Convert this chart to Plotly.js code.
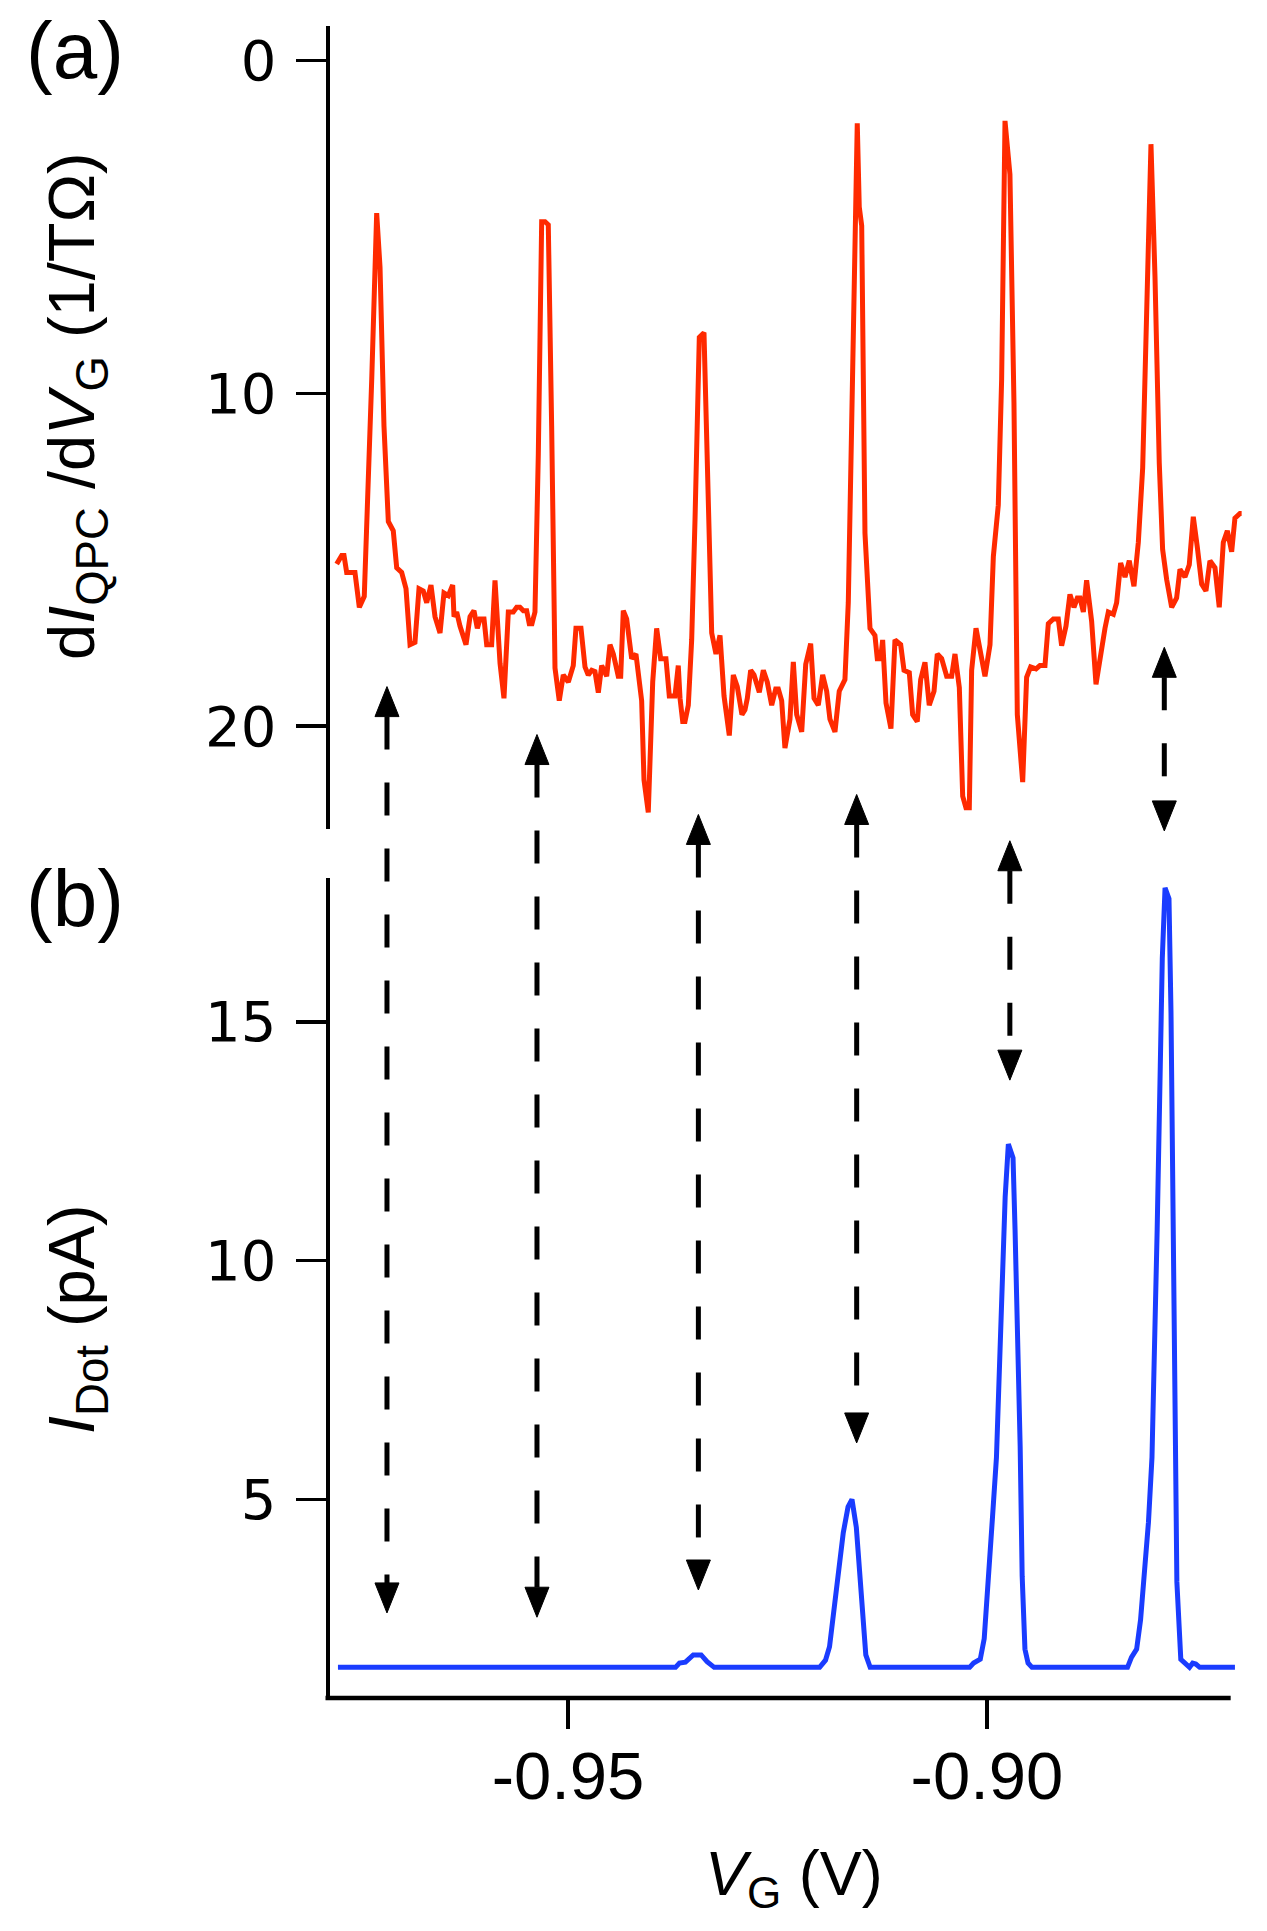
<!DOCTYPE html>
<html>
<head>
<meta charset="utf-8">
<script src="https://cdn.plot.ly/plotly-3.0.1.min.js"></script>
<style>html,body{margin:0;padding:0;background:#fff;}#chart{width:1267px;height:1931px;}</style>
</head>
<body>
<div id="chart"></div>
<script>
// ---- data: (a) dI_QPC/dV_G (1/TΩ) vs V_G (V)
const V_RED = [
-0.97760,-0.97700,-0.97673,-0.97641,-0.97542,-0.97490,-0.97431,-0.97390,-0.97342,-0.97283,
-0.97243,-0.97196,-0.97144,-0.97085,-0.97044,-0.96985,-0.96933,-0.96885,-0.96826,-0.96778,
-0.96727,-0.96686,-0.96635,-0.96587,-0.96527,-0.96480,-0.96428,-0.96376,-0.96360,-0.96328,
-0.96289,-0.96217,-0.96169,-0.96122,-0.96082,-0.96050,-0.96002,-0.95970,-0.95911,-0.95871,
-0.95811,-0.95764,-0.95712,-0.95653,-0.95612,-0.95573,-0.95533,-0.95493,-0.95462,-0.95430,
-0.95394,-0.95354,-0.95314,-0.95274,-0.95235,-0.95195,-0.95155,-0.95104,-0.95056,-0.94996,
-0.94937,-0.94905,-0.94845,-0.94797,-0.94758,-0.94717,-0.94678,-0.94638,-0.94598,-0.94538,
-0.94499,-0.94459,-0.94400,-0.94371,-0.94340,-0.94300,-0.94240,-0.94189,
-0.94121,-0.94093,-0.94042,-0.93989,-0.93942,-0.93894,-0.93831,-0.93791,-0.93723,-0.93684,
-0.93663,-0.93631,-0.93604,-0.93564,-0.93524,-0.93484,-0.93433,-0.93377,-0.93326,-0.93285,
-0.93234,-0.93186,-0.93138,-0.93075,-0.93027,-0.92980,-0.92924,-0.92888,-0.92860,-0.92820,
-0.92780,-0.92717,-0.92669,-0.92622,-0.92569,-0.92521,-0.92490,-0.92450,-0.92411,-0.92351,
-0.92311,-0.92271,-0.92211,-0.92163,-0.92104,-0.92064,-0.92013,-0.91961,-0.91913,-0.91874,
-0.91814,-0.91763,-0.91695,-0.91655,-0.91615,-0.91575,-0.91548,-0.91524,-0.91495,-0.91456,
-0.91396,-0.91337,-0.91309,-0.91269,-0.91245,-0.91205,-0.91146,-0.91098,-0.91030,-0.90990,
-0.90927,-0.90887,-0.90832,-0.90791,-0.90740,-0.90689,-0.90632,-0.90593,-0.90541,
-0.90481,-0.90422,-0.90382,-0.90330,-0.90290,-0.90251,-0.90211,-0.90183,-0.90131,-0.90084,
-0.90024,-0.89964,-0.89924,-0.89865,-0.89825,-0.89785,-0.89726,-0.89678,-0.89638,-0.89574,
-0.89527,-0.89479,-0.89415,-0.89368,-0.89308,-0.89268,-0.89208,-0.89149,-0.89109,-0.89057,
-0.89010,-0.88962,-0.88922,-0.88890,-0.88850,-0.88811,-0.88751,-0.88699,-0.88652,-0.88592,
-0.88552,-0.88492,-0.88453,-0.88405,-0.88353,-0.88302,-0.88246,-0.88194,-0.88142,-0.88095,
-0.88043,-0.87995,-0.87944,-0.87904,-0.87856,-0.87796,-0.87737,-0.87697,-0.87637,-0.87586,
-0.87538,-0.87490,-0.87438,-0.87387,-0.87339,-0.87279,-0.87228,-0.87180,-0.87132,-0.87080,
-0.87041,-0.86981,-0.86961
];
const DI_RED = [
15.13,14.87,14.87,15.38,15.38,16.43,16.10,13.50,9.58,4.59,
6.22,10.98,13.85,14.13,15.24,15.38,15.87,17.55,17.48,15.87,
15.94,16.29,15.76,16.71,17.20,16.00,16.08,15.76,16.71,16.57,
16.99,17.55,16.71,16.53,17.06,16.78,16.78,17.55,17.55,15.62,
18.11,19.16,16.57,16.57,16.43,16.43,16.53,16.53,16.92,16.92,
16.57,11.82,4.85,4.85,4.94,10.98,18.25,19.23,18.46,18.67,
18.18,17.06,17.06,18.22,18.46,18.32,18.36,18.99,18.18,18.50,
17.55,17.83,18.50,18.50,16.53,16.78,17.97,17.83,
19.23,21.61,22.59,18.67,17.06,17.97,17.97,19.09,19.09,18.18,
19.16,19.86,19.86,19.37,17.41,13.78,8.32,8.18,13.36,17.20,
17.83,17.27,19.09,20.28,18.46,18.81,19.65,19.51,19.16,18.32,
18.46,18.98,18.32,18.67,19.37,18.88,18.88,19.23,20.66,19.79,
18.07,19.65,20.17,18.14,17.52,19.16,19.37,18.46,18.95,19.79,
20.17,18.95,18.60,16.29,10.98,5.80,1.89,4.41,4.97,14.20,
17.06,17.27,17.97,17.97,17.41,19.30,20.07,17.41,17.55,18.32,
18.39,19.65,19.86,18.60,18.08,19.37,18.95,17.83,17.97,
18.50,18.50,17.83,18.84,22.10,22.45,22.45,18.32,17.06,17.69,
18.50,17.55,14.90,13.36,9.58,1.82,3.43,10.28,19.65,21.68,
18.53,18.22,18.28,18.18,18.18,16.92,16.78,16.78,17.58,16.99,
16.04,16.43,16.15,16.15,16.57,15.62,16.85,18.74,17.90,17.06,
16.57,16.64,16.29,15.10,15.52,15.03,15.80,14.48,12.24,7.20,
2.52,6.50,12.10,14.69,15.59,16.43,16.15,15.29,15.52,15.15,
13.71,14.62,15.73,15.94,15.03,15.24,16.43,14.48,14.13,14.76,
13.75,13.61,13.61
];

// ---- data: (b) I_Dot (pA) vs V_G (V)
const V_BLUE = [
-0.97745,-0.93717,-0.93670,-0.93599,-0.93505,-0.93411,-0.93340,-0.93255,
-0.91997,-0.91927,-0.91879,-0.91832,-0.91785,-0.91715,-0.91658,-0.91611,-0.91559,-0.91521,-0.91488,-0.91446,-0.91394,
-0.90207,-0.90160,-0.90080,-0.90033,-0.89986,-0.89934,-0.89887,-0.89854,-0.89816,-0.89783,-0.89745,-0.89689,-0.89665,-0.89632,-0.89604,-0.89580,-0.89547,-0.89510,-0.89463,
-0.88323,-0.88276,-0.88214,-0.88167,-0.88120,-0.88073,-0.88031,-0.88002,-0.87969,-0.87932,-0.87908,-0.87875,-0.87828,-0.87804,-0.87781,-0.87757,-0.87734,-0.87687,-0.87640,-0.87583,-0.87545,-0.87508,-0.87461,
-0.87041
];
const I_BLUE = [
1.48,1.48,1.57,1.59,1.74,1.74,1.60,1.48,
1.48,1.63,1.91,2.59,3.39,4.30,4.84,5.00,4.41,3.39,2.48,1.74,1.48,
1.48,1.57,1.65,2.08,3.16,4.63,5.88,7.70,9.74,11.33,12.44,12.15,10.65,8.38,6.11,3.39,1.86,1.57,1.48,
1.48,1.69,1.86,2.48,3.50,4.52,5.88,7.81,10.65,14.06,16.33,17.81,17.58,15.19,10.65,6.90,3.27,1.65,1.57,1.48,1.57,1.55,1.48,
1.48
];

// ---- ticks
const X_TICKS = [-0.95, -0.90];
const X_TICK_TEXT = ['-0.95', '-0.90'];
const Y_TICKS_A = [0, 10, 20];
const Y_TICKS_B = [5, 10, 15];

// ---- dashed double arrows linking peaks: x (V), top tip (panel a units), bottom tip (panel b units)
const ARROW_X   = [-0.97160, -0.95370, -0.93444, -0.91555, -0.89727, -0.87884];
const ARROW_TOP = [18.81, 20.25, 22.65, 22.05, 23.44, 17.63];
const ARROW_BOT = [2.62, 2.53, 3.10, 6.18, 13.78, 19.00];

// ---- layout constants
const W = 1267, H = 1931;
const M = {l: 330, r: 21, t: 26, b: 235};
const X_RANGE = [-0.97840, -0.86909];
const X_AXIS_END = -0.87092;          // where the drawn x-axis line stops
const DOM_A = [0.5189, 1];
const DOM_B = [0, 0.49];
const RANGE_A = [23.1, -1.03];
const RANGE_B = [0.88, 18.02];
const plotW = W - M.l - M.r, plotH = H - M.t - M.b;

function toPaper(v, dom, rng) {
  return dom[0] + (v - rng[0]) / (rng[1] - rng[0]) * (dom[1] - dom[0]);
}

const shapes = [];
const headH = 30 / plotH;
const headHW = 12 * (X_RANGE[1] - X_RANGE[0]) / plotW;
for (let i = 0; i < ARROW_X.length; i++) {
  const x = ARROW_X[i];
  const pt = toPaper(ARROW_TOP[i], DOM_A, RANGE_A);
  const pb = toPaper(ARROW_BOT[i], DOM_B, RANGE_B);
  shapes.push({type: 'line', xref: 'x2', yref: 'paper', x0: x, x1: x, y0: pt - headH, y1: pb + headH,
               line: {color: 'black', width: 5, dash: '33px,33px'}});
  shapes.push({type: 'path', xref: 'x2', yref: 'paper',
               path: `M ${x},${pt} L ${x - headHW},${pt - headH} L ${x + headHW},${pt - headH} Z`,
               fillcolor: 'black', line: {color: 'black', width: 1}});
  shapes.push({type: 'path', xref: 'x2', yref: 'paper',
               path: `M ${x},${pb} L ${x - headHW},${pb + headH} L ${x + headHW},${pb + headH} Z`,
               fillcolor: 'black', line: {color: 'black', width: 1}});
}
// bottom x-axis line (stops short of the data end, as in the original)
shapes.push({type: 'line', xref: 'paper', yref: 'paper', x0: -4.5 / plotW,
             x1: (X_AXIS_END - X_RANGE[0]) / (X_RANGE[1] - X_RANGE[0]),
             y0: -2 / plotH, y1: -2 / plotH, line: {color: 'black', width: 4.5}});

const FONT = "'Liberation Sans', Arial, Helvetica, sans-serif";
const px2x = p => (p - M.l) / plotW;
const py2y = p => (H - M.b - p) / plotH;

const annotations = [
  {text: '(a)', xref: 'paper', yref: 'paper', x: px2x(75), y: py2y(51), xanchor: 'center', yanchor: 'middle',
   showarrow: false, font: {family: FONT, size: 80, color: 'black'}},
  {text: '(b)', xref: 'paper', yref: 'paper', x: px2x(75), y: py2y(899), xanchor: 'center', yanchor: 'middle',
   showarrow: false, font: {family: FONT, size: 80, color: 'black'}},
  {text: 'd<i>I</i><sub>QPC</sub> /d<i>V</i><sub>G</sub> (1/TΩ)', xref: 'paper', yref: 'paper',
   x: px2x(76), y: py2y(406), xanchor: 'center', yanchor: 'middle', textangle: -90,
   showarrow: false, font: {family: FONT, size: 65, color: 'black'}},
  {text: '<i>I</i><sub>Dot</sub> (pA)', xref: 'paper', yref: 'paper',
   x: px2x(76), y: py2y(1319), xanchor: 'center', yanchor: 'middle', textangle: -90,
   showarrow: false, font: {family: FONT, size: 65, color: 'black'}},
  {text: '<i>V</i><sub>G</sub> (V)', xref: 'paper', yref: 'paper',
   x: px2x(794), y: py2y(1877), xanchor: 'center', yanchor: 'middle',
   showarrow: false, font: {family: FONT, size: 63, color: 'black'}}
];

const traces = [
  {x: V_RED, y: DI_RED, xaxis: 'x', yaxis: 'y', type: 'scatter', mode: 'lines',
   line: {color: '#ff2a00', width: 5}, hoverinfo: 'skip'},
  {x: V_BLUE, y: I_BLUE, xaxis: 'x2', yaxis: 'y2', type: 'scatter', mode: 'lines',
   line: {color: '#1a3cff', width: 5}, hoverinfo: 'skip'}
];

const yTickFont = {family: "'DejaVu Sans', Verdana, sans-serif", size: 56, color: 'black'};
const layout = {
  width: W, height: H, margin: M, showlegend: false,
  paper_bgcolor: 'white', plot_bgcolor: 'white',
  xaxis: {domain: [0, 1], range: X_RANGE, anchor: 'y', showline: false, showticklabels: false,
          ticks: '', showgrid: false, zeroline: false},
  yaxis: {domain: DOM_A, range: RANGE_A, anchor: 'x', tickvals: Y_TICKS_A, ticktext: Y_TICKS_A.map(String),
          ticks: 'outside', ticklen: 30, tickwidth: 3.5, tickcolor: 'black',
          showline: true, linewidth: 4.5, linecolor: 'black', showgrid: false, zeroline: false,
          tickfont: yTickFont, ticklabelstandoff: 8},
  xaxis2: {domain: [0, 1], range: X_RANGE, anchor: 'y2', tickvals: X_TICKS, ticktext: X_TICK_TEXT,
           ticks: 'outside', ticklen: 32, tickwidth: 3.5, tickcolor: 'black',
           showline: false, showgrid: false, zeroline: false,
           tickfont: {family: FONT, size: 67, color: 'black'}, ticklabelstandoff: -10},
  yaxis2: {domain: DOM_B, range: RANGE_B, anchor: 'x2', tickvals: Y_TICKS_B, ticktext: Y_TICKS_B.map(String),
           ticks: 'outside', ticklen: 30, tickwidth: 3.5, tickcolor: 'black',
           showline: true, linewidth: 4.5, linecolor: 'black', showgrid: false, zeroline: false,
           tickfont: yTickFont, ticklabelstandoff: 8},
  shapes: shapes,
  annotations: annotations,
  hovermode: false
};

Plotly.newPlot('chart', traces, layout, {staticPlot: true, displayModeBar: false});
</script>
</body>
</html>
